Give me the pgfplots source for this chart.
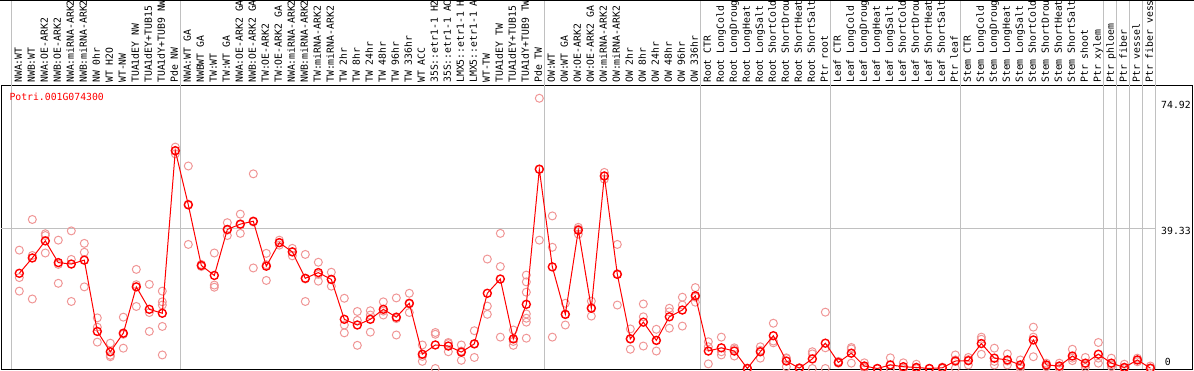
\documentclass[border=0pt]{standalone}
\usepackage{pgfplots}
\pgfplotsset{compat=1.18}
\usepackage{pgfplotstable}
\usepackage{fontspec}
\newfontfamily\pix{DejaVu Sans Mono}
\definecolor{meanred}{RGB}{255,0,0}
\definecolor{reppink}{RGB}{240,150,150}
\definecolor{gridgray}{RGB}{192,192,192}

\pgfplotstableread{
x y
0 26.7
1 31.0
2 35.8
3 29.7
4 29.3
5 30.4
6 10.4
7 4.7
8 9.9
9 22.9
10 16.6
11 15.5
12 61.1
13 45.9
14 28.9
15 26.1
16 39.0
17 40.5
18 41.3
19 28.7
20 35.3
21 32.7
22 25.3
23 26.9
24 25.0
25 13.8
26 12.2
27 13.8
28 16.6
29 14.4
30 18.3
31 4.0
32 6.6
33 6.3
34 4.6
35 6.9
36 21.1
37 25.1
38 8.3
39 18.0
40 55.9
41 28.5
42 15.2
43 38.8
44 16.9
45 54.0
46 26.4
47 8.3
48 13.0
49 7.9
50 14.5
51 16.4
52 20.4
53 4.9
54 5.8
55 4.9
56 0.0
57 4.7
58 9.2
59 2.1
60 0.1
61 2.7
62 7.1
63 1.7
64 4.3
65 0.7
66 0.0
67 1.0
68 0.5
69 0.3
70 0.0
71 0.2
72 2.1
73 2.2
74 7.0
75 2.9
76 2.4
77 1.0
78 8.0
79 1.0
80 0.7
81 3.5
82 1.5
83 4.0
84 1.5
85 0.3
86 2.4
87 0.1
}\means

\pgfplotstableread{
x y
0 33.2
0 25.5
0 21.7
1 41.8
1 31.7
1 19.5
2 37.8
2 37.3
2 32.4
3 36.0
3 29.2
3 23.9
4 38.6
4 30.6
4 18.8
5 35.1
5 32.6
5 22.9
6 14.2
6 11.6
6 7.4
7 7.1
7 3.7
7 3.3
8 14.4
8 9.6
8 5.7
9 27.8
9 23.5
9 17.4
10 23.6
10 15.7
10 10.4
11 21.7
11 18.7
11 17.8
11 11.8
11 3.8
12 62.1
12 61.0
12 60.2
13 56.8
13 46.1
13 34.8
14 29.2
14 28.9
14 28.6
15 32.4
15 23.4
15 22.8
16 40.9
16 38.8
16 37.3
17 43.3
17 40.3
17 37.9
18 54.6
18 41.1
18 28.2
19 32.3
19 29.1
19 24.7
20 36.0
20 35.3
20 34.6
21 33.7
21 32.8
21 31.6
22 32.0
22 25.1
22 18.8
23 29.8
23 26.4
23 24.5
24 27.0
24 24.9
24 23.1
25 19.7
25 12.2
25 10.0
26 16.0
26 13.5
26 6.5
27 16.2
27 15.0
27 10.2
28 18.7
28 16.1
28 15.0
29 19.8
29 14.0
29 9.4
30 21.1
30 18.1
30 15.7
31 6.6
31 3.4
31 2.0
32 10.1
32 9.6
32 0.0
33 7.3
33 7.0
33 4.7
34 6.6
34 4.9
34 2.3
35 10.6
35 7.0
35 3.1
36 30.7
36 17.5
36 15.2
37 37.9
37 28.6
37 8.8
38 10.8
38 7.6
38 6.5
39 26.2
39 24.3
39 21.4
39 15.3
39 14.1
39 13.0
39 8.5
40 75.8
40 55.9
40 36.0
41 42.8
41 34.0
41 8.8
42 18.3
42 15.1
42 12.2
43 39.6
43 39.1
43 37.7
44 18.9
44 17.1
44 14.7
45 55.0
45 54.0
45 53.1
46 34.8
46 26.6
46 17.8
47 11.1
47 8.4
47 5.4
48 18.1
48 14.5
48 6.3
49 11.0
49 7.8
49 4.9
50 16.9
50 15.9
50 11.3
51 20.0
51 17.8
51 11.9
52 22.7
52 20.0
52 18.6
53 7.5
53 6.1
53 1.3
54 8.8
54 4.7
54 3.8
55 5.8
55 5.4
55 3.5
56 0.1
56 0.0
56 0.0
57 6.1
57 5.1
57 2.9
58 12.7
58 7.7
58 7.2
59 3.0
59 2.8
59 0.5
60 0.2
60 0.0
60 0.0
61 4.7
61 4.1
61 0.0
62 15.8
62 5.8
62 0.0
63 2.0
63 1.6
63 1.5
64 5.9
64 5.5
64 1.5
65 1.6
65 0.3
65 0.2
66 0.0
66 0.0
66 0.0
67 3.0
67 0.0
67 0.0
68 1.6
68 0.0
68 0.0
69 1.2
69 0.0
69 0.0
70 0.0
70 0.0
70 0.0
71 0.4
71 0.1
71 0.0
72 3.8
72 2.4
72 0.1
73 3.1
73 2.5
73 1.0
74 8.8
74 8.2
74 4.0
75 5.7
75 2.0
75 1.0
76 4.1
76 2.1
76 1.0
77 2.4
77 0.5
77 0.0
78 11.6
78 8.8
78 3.3
79 1.5
79 1.0
79 0.5
80 1.5
80 0.5
80 0.0
81 5.4
81 2.9
81 2.2
82 3.1
82 1.0
82 0.3
83 7.3
83 2.9
83 1.5
84 2.9
84 1.0
84 0.5
85 1.2
85 0.0
85 0.0
86 2.9
86 2.4
86 1.9
87 0.7
87 0.0
87 0.0
}\reps

\begin{document}
\begin{tikzpicture}
\begin{axis}[
  at={(0pt,0pt)}, anchor=south west,
  scale only axis, width=1191pt, height=283pt,
  xmin=-1.408, xmax=90.208, ymin=-0.14, ymax=79.24,
  axis line style={black, line width=1pt},
  clip mode=individual,
  xtick={0,...,87},
  xticklabels={NWA:WT,NWB:WT,NWA:OE-ARK2,NWB:OE-ARK2,NWA:miRNA-ARK2,NWB:miRNA-ARK2,NW 0hr,WT H2O,WT-NW,TUA1dEY NW,TUA1dEY+TUB15,TUA1dY+TUB9 NW,Pde NW,
  NWA:WT GA,NWBWT GA,TW:WT,TW:WT GA,NWA:OE-ARK2 GA,NWB:OE-ARK2 GA,TW:OE-ARK2,TW:OE-ARK2 GA,NWA:miRNA-ARK2,NWB:miRNA-ARK2,TW:miRNA-ARK2,TW:miRNA-ARK2,TW 2hr,TW 8hr,TW 24hr,TW 48hr,TW 96hr,TW 336hr,WT ACC,35S::etr1-1 H2,35S::etr1-1 AC,LMX5::etr1-1 H,LMX5::etr1-1 A,WT-TW,TUA1dEY TW,TUA1dEY+TUB15,TUA1dY+TUB9 TW,Pde TW,
  OW:WT,OW:WT GA,OW:OE-ARK2,OW:OE-ARK2 GA,OW:miRNA-ARK2,OW:miRNA-ARK2,OW 2hr,OW 8hr,OW 24hr,OW 48hr,OW 96hr,OW 336hr,
  Root CTR,Root LongCold,Root LongDroug,Root LongHeat,Root LongSalt,Root ShortCold,Root ShortDrou,Root ShortHeat,Root ShortSalt,Ptr root,
  Leaf CTR,Leaf LongCold,Leaf LongDroug,Leaf LongHeat,Leaf LongSalt,Leaf ShortCold,Leaf ShortDrou,Leaf ShortHeat,Leaf ShortSalt,Ptr leaf,
  Stem CTR,Stem LongCold,Stem LongDroug,Stem LongHeat,Stem LongSalt,Stem ShortCold,Stem ShortDrou,Stem ShortHeat,Stem ShortSalt,Ptr shoot,Ptr xylem,Ptr phloem,Ptr fiber,Ptr vessel,Ptr fiber vess},
  xticklabel pos=upper,
  major tick length=0pt,
  ytick=\empty,
  xticklabel style={rotate=90, anchor=west, inner ysep=0pt, inner xsep=3pt,
    font=\pix\fontsize{9.8}{10}\selectfont, text height=7pt, text depth=2pt},
]
\pgfplotsinvokeforeach{-0.615,12.385,40.385,52.385,62.385,72.385,83.385,84.385,85.385,86.385,87.385}{
  \draw[gridgray, line width=1pt] (axis cs:#1,-0.14) -- ++(0pt,369pt);
}
\draw[gridgray, line width=1pt] (axis cs:-1.408,39.33) -- (axis cs:87.385,39.33);
\draw[black, line width=1pt] ([xshift=-1pt,yshift=368.5pt]rel axis cs:0,0) -- ++(1194pt,0pt);

\addplot[only marks, mark=o, mark size=4pt, reppink, mark options={line width=1pt}] table[x=x,y=y] {\reps};
\addplot[meanred, line width=1pt, mark=o, mark size=4pt, mark options={line width=1.4pt}] table[x=x,y=y] {\means};

\node[anchor=base west, inner sep=0pt, text=meanred, font=\pix\fontsize{9.8}{10}\selectfont] at ([xshift=8.3pt,yshift=268pt]rel axis cs:0,0) {Potri.001G074300};
\node[anchor=west, inner sep=0pt, font=\pix\fontsize{9.8}{10}\selectfont] at (axis cs:87.82,73.9) {74.92};
\node[anchor=west, inner sep=0pt, font=\pix\fontsize{9.8}{10}\selectfont] at (axis cs:87.82,38.6) {39.33};
\node[anchor=west, inner sep=0pt, font=\pix\fontsize{9.8}{10}\selectfont] at (axis cs:88.1,1.8) {0};
\end{axis}
\pgfresetboundingbox
\path[use as bounding box] (-1pt,-1pt) rectangle (1193pt,369pt);
\end{tikzpicture}
\end{document}
